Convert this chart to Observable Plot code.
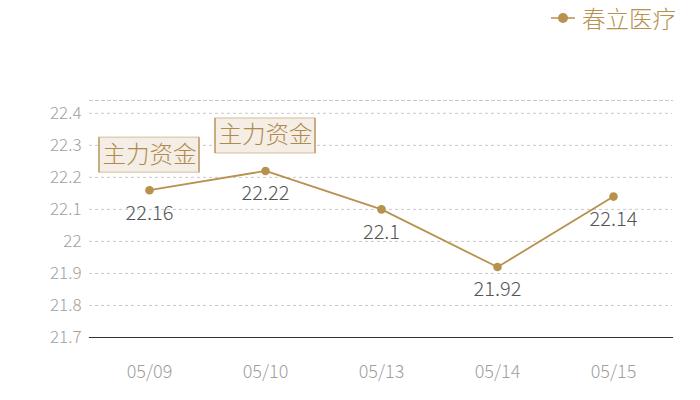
<!DOCTYPE html>
<html>
<head>
<meta charset="utf-8">
<script src="https://cdn.jsdelivr.net/npm/d3@7"></script>
<script src="https://cdn.jsdelivr.net/npm/@observablehq/plot@0.6"></script>
<style>
  html, body { margin: 0; padding: 0; background: #fff; }
  body { width: 700px; height: 400px; position: relative; font-family: "Noto Sans CJK SC", "Noto Sans", sans-serif; }
  #legend { height: 36px; display: flex; justify-content: flex-end; align-items: center; padding-right: 24px; box-sizing: border-box; }
  #legend .item { display: flex; align-items: center; color: #b8914f; font-size: 23.5px; font-weight: 300; }
  #legend svg { margin-right: 7px; }
</style>
</head>
<body>
<div id="legend"></div>
<div id="chart"></div>
<script>
const dates = ["05/09", "05/10", "05/13", "05/14", "05/15"];
const prices = [22.16, 22.22, 22.1, 21.92, 22.14];
const seriesName = "春立医疗";
const yTicks = [21.7, 21.8, 21.9, 22.0, 22.1, 22.2, 22.3, 22.4];
const yDomain = [21.7, 22.44];
const annotationDates = ["05/09", "05/10"];
const annotationText = "主力资金";

const color = "#b8914f";
const data = dates.map((d, i) => ({date: d, price: prices[i]}));
const annotations = data.filter(d => annotationDates.includes(d.date));

// legend
document.getElementById("legend").innerHTML =
  `<div class="item"><svg width="24" height="12"><line x1="0" x2="24" y1="6" y2="6" stroke="${color}" stroke-width="1.5"/><circle cx="12" cy="6" r="5" fill="${color}"/></svg>${seriesName}</div>`;

const font = "'Noto Sans CJK SC', 'Noto Sans', sans-serif";

const chart = Plot.plot({
  width: 700,
  height: 364,
  marginTop: 64,
  marginBottom: 63,
  marginLeft: 89,
  marginRight: 28,
  style: {fontFamily: font, background: "#fff", overflow: "visible", fontWeight: 300},
  x: {type: "point", domain: dates, padding: 0.5, label: null},
  y: {domain: yDomain, label: null},
  marks: [
    Plot.gridY(yTicks, {stroke: "#bbb", strokeOpacity: 1, strokeDasharray: "3,3", strokeWidth: 0.8}),
    Plot.frame({anchor: "top", stroke: "#bbb", strokeDasharray: "3,3", strokeWidth: 0.8}),
    Plot.frame({anchor: "bottom", stroke: "#333", strokeWidth: 1.2}),
    Plot.axisY(yTicks, {tickSize: 0, tickPadding: 8, fontSize: 17, fill: "#a0a0a0", tickFormat: d => String(+d.toFixed(1))}),
    Plot.axisX({tickSize: 0, tickPadding: 28, fontSize: 18, fill: "#a0a0a0"}),
    Plot.line(data, {x: "date", y: "price", stroke: color, strokeWidth: 1.8}),
    Plot.dot(data, {x: "date", y: "price", r: 4.3, fill: color}),
    Plot.text(data, {x: "date", y: "price", text: d => String(d.price), dy: 23, fontSize: 20, fill: "#555", textAnchor: "middle", lineAnchor: "middle"}),
    Plot.text(annotations, {
      x: "date", y: "price", text: () => annotationText, dy: -35, fontSize: 23.5, fill: "#b08a4a", lineAnchor: "middle",
      render(index, scales, values, dimensions, context, next) {
        const g = next(index, scales, values, dimensions, context);
        const ns = "http://www.w3.org/2000/svg";
        const bg = document.createElementNS(ns, "g");
        for (const i of index) {
          const cx = values.x[i], cy = values.y[i] - 35;
          const r = document.createElementNS(ns, "rect");
          r.setAttribute("x", cx - 50); r.setAttribute("y", cy - 17.5);
          r.setAttribute("width", 100); r.setAttribute("height", 35);
          r.setAttribute("fill", "#f4eee6"); r.setAttribute("stroke", "#dcc7a6"); r.setAttribute("stroke-width", 1.2);
          bg.appendChild(r);
          for (const sx of [cx - 50, cx + 50]) {
            const l = document.createElementNS(ns, "line");
            l.setAttribute("x1", sx); l.setAttribute("x2", sx);
            l.setAttribute("y1", cy - 17.5); l.setAttribute("y2", cy + 17.5);
            l.setAttribute("stroke", "#c2a070"); l.setAttribute("stroke-width", 1.6);
            bg.appendChild(l);
          }
        }
        const wrap = document.createElementNS(ns, "g");
        wrap.appendChild(bg);
        wrap.appendChild(g);
        return wrap;
      }
    })
  ]
});
document.getElementById("chart").appendChild(chart);
</script>
</body>
</html>
